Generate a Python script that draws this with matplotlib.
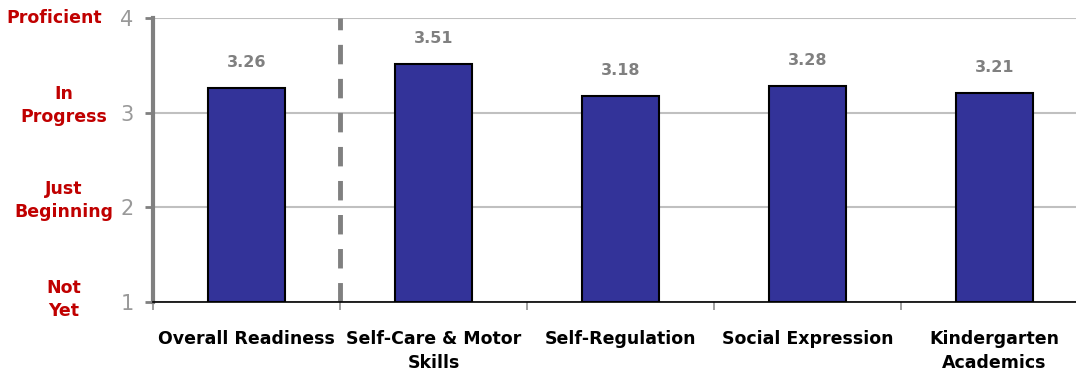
import matplotlib
matplotlib.use("Agg")
import matplotlib.pyplot as plt
import numpy as np

# data
categories = ["Overall Readiness", "Self-Care & Motor\nSkills", "Self-Regulation",
              "Social Expression", "Kindergarten\nAcademics"]
scores = [3.26, 3.51, 3.18, 3.28, 3.21]
level_labels = ["Not\nYet", "Just\nBeginning", "In\nProgress", "Proficient"]
level_values = [1, 2, 3, 4]

plt.rcParams['font.family'] = ['DejaVu Sans']

fig = plt.figure(figsize=(10.76, 3.77), dpi=100)
ax = fig.add_axes([153/1076, 75/377, 935/1076, 284/377])

x = np.arange(len(categories))
ax.bar(x, [s - 1 for s in scores], bottom=1, width=0.41, color='#333399',
       edgecolor='black', linewidth=1.5, zorder=3)

for xi, s in zip(x, scores):
    ax.text(xi, s + 0.19, '%.2f' % s, ha='center', va='bottom', fontsize=11.5,
            fontweight='bold', color='#808080')

# divider between overall and domains
ax.plot([0.5, 0.5], [1, 4], color='#808080', linestyle=(0, (4, 3)), linewidth=3.5, zorder=2)

ax.set_xlim(-0.5, len(categories) - 0.5)
ax.set_ylim(1, 4)
ax.set_yticks(level_values)
ax.set_yticklabels([str(v) for v in level_values], fontsize=15, color='#999999')
ax.tick_params(axis='y', length=6, width=2, color='#808080', pad=8)
ax.grid(axis='y', color='#c0c0c0', linewidth=1.5, zorder=0)

ax.set_xticks(x)
ax.set_xticklabels(categories, fontsize=12.5, fontweight='bold', color='black',
                   linespacing=1.45)
ax.tick_params(axis='x', length=0, pad=20)
ax.set_xticks(np.arange(len(categories) + 1) - 0.5, minor=True)
ax.tick_params(axis='x', which='minor', length=6, width=1.2, color='#909090')

for sp in ['top', 'right']:
    ax.spines[sp].set_visible(False)
ax.spines['left'].set_color('#808080')
ax.spines['left'].set_linewidth(3)
ax.spines['bottom'].set_color('black')
ax.spines['bottom'].set_linewidth(1.2)

# level names to the left of the axis
for v, lab in zip(level_values, level_labels):
    off = 0.0
    if v == 3:
        off = 0.08
    elif v == 2:
        off = 0.07
    elif v == 1:
        off = 0.03
    ax.text(-0.975 if v != 4 else -1.03, v + off, lab, ha='center', va='center',
            fontsize=12.5, fontweight='bold', color='#C00000', linespacing=1.35,
            transform=ax.transData, clip_on=False)

fig.savefig('out.png', dpi=100)
